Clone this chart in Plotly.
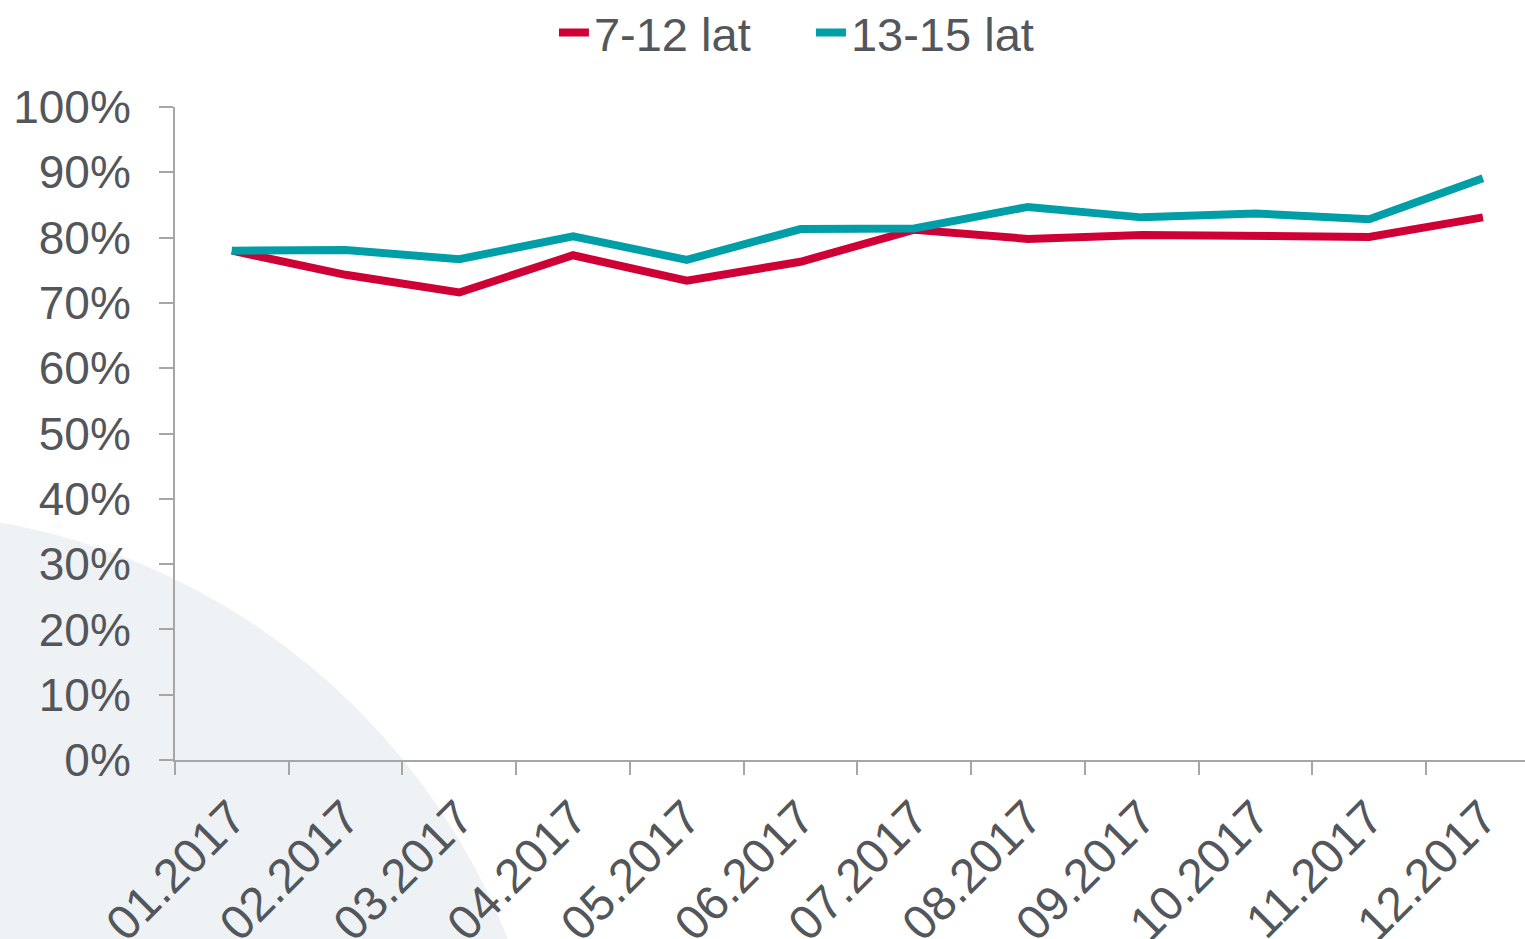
import plotly.graph_objects as go

months = ["01.2017", "02.2017", "03.2017", "04.2017", "05.2017", "06.2017",
          "07.2017", "08.2017", "09.2017", "10.2017", "11.2017", "12.2017"]
kids_7_12 = [78.0, 74.3, 71.6, 77.3, 73.4, 76.3, 81.2, 79.8, 80.4, 80.1, 80.1, 83.1]
kids_13_15 = [78.0, 78.1, 76.7, 80.2, 76.6, 81.3, 81.4, 84.7, 83.1, 83.7, 82.8, 89.1]
y_ticks = [0, 10, 20, 30, 40, 50, 60, 70, 80, 90, 100]
y_labels = ["0%", "10%", "20%", "30%", "40%", "50%", "60%", "70%", "80%", "90%", "100%"]

RED = "#CF0036"
TEAL = "#009EA6"
TEXT = "#53565A"
AXIS = "#A6A6A6"
FONT = "Liberation Sans, Arial, sans-serif"

fig = go.Figure()
fig.add_trace(go.Scatter(x=months, y=kids_7_12, name="7-12 lat", mode="lines",
                         line=dict(color=RED, width=8)))
fig.add_trace(go.Scatter(x=months, y=kids_13_15, name="13-15 lat", mode="lines",
                         line=dict(color=TEAL, width=8)))

# decorative light grey circle in the lower-left corner
fig.add_shape(type="circle", xref="paper", yref="paper",
              x0=-0.716, x1=0.281, y0=-1.681, y1=0.380,
              fillcolor="#EEF2F5", line=dict(width=0), layer="below")

fig.update_layout(
    width=1525, height=939,
    margin=dict(l=175, r=0, t=107, b=179),
    paper_bgcolor="white",
    plot_bgcolor="rgba(0,0,0,0)",
    font=dict(family=FONT, color=TEXT, size=46),
    showlegend=True,
    legend=dict(orientation="h", x=0.2807, xanchor="left",
                yref="container", y=0.965, yanchor="middle",
                font=dict(size=47, color=TEXT), bgcolor="rgba(0,0,0,0)",
                entrywidth=212, entrywidthmode="pixels"),
)
fig.update_xaxes(
    type="category", range=[-0.5, 11.37], tickson="boundaries",
    showline=True, linecolor=AXIS, linewidth=2,
    ticks="outside", ticklen=13, tickcolor=AXIS, tickwidth=2,
    showgrid=False, zeroline=False, tickangle=-45, automargin=False,
    tickfont=dict(size=48, color=TEXT), ticklabelstandoff=8,
)
fig.update_yaxes(
    range=[0, 100], tickvals=y_ticks, ticktext=y_labels,
    showline=True, linecolor=AXIS, linewidth=2,
    ticks="outside", ticklen=14, tickcolor=AXIS, tickwidth=2,
    showgrid=False, zeroline=False, automargin=False,
    tickfont=dict(size=46, color=TEXT), ticklabelstandoff=19,
)

fig.write_html("out.html", config={"displayModeBar": False},
               post_script="document.body.style.margin='0';")
